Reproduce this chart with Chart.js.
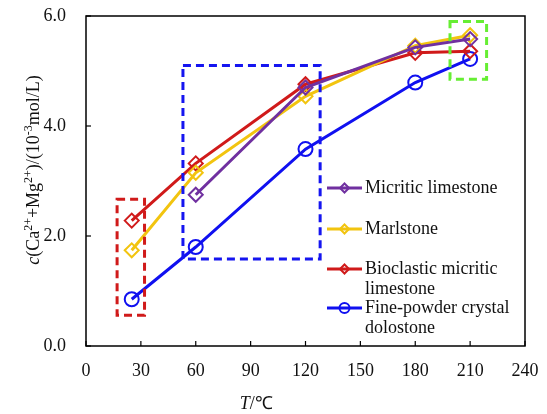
<!DOCTYPE html>
<html>
<head>
<meta charset="utf-8">
<script src="https://cdn.jsdelivr.net/npm/chart.js@4/dist/chart.umd.min.js"></script>
<style>
html,body{margin:0;padding:0;background:#fff;}
#wrap{width:547px;height:414px;}
</style>
</head>
<body>
<div id="wrap"><canvas id="c" width="547" height="414"></canvas></div>
<script>
const temperatures = [25, 60, 120, 180, 210];
const micriticLimestone = [null, 2.75, 4.70, 5.43, 5.58];
const marlstone = [1.74, 3.15, 4.54, 5.46, 5.65];
const bioclasticLimestone = [2.28, 3.32, 4.76, 5.33, 5.36];
const dolostone = [0.85, 1.80, 3.58, 4.79, 5.22];
const seriesNames = ['Micritic limestone', 'Marlstone', 'Bioclastic micritic|limestone', 'Fine-powder crystal|dolostone'];
const xTicks = [0, 30, 60, 90, 120, 150, 180, 210, 240];
const yTicks = [0, 2, 4, 6];
// highlight boxes in data units: [xMin, xMax, yMin, yMax]
const boxRed = [17, 32, 0.56, 2.67];
const boxBlue = [53, 128, 1.58, 5.1];
const boxGreen = [199, 219, 4.85, 5.9];

const colors = ['#7030A0', '#F2C40F', '#D01A1A', '#1010F0'];
const styles = ['rectRot', 'rectRot', 'rectRot', 'circle'];
const seriesData = [micriticLimestone, marlstone, bioclasticLimestone, dolostone];

const FONT = '"Liberation Serif", "Times New Roman", serif';

const datasets = seriesData.map((arr, i) => ({
  label: seriesNames[i],
  data: temperatures.map((t, j) => ({x: t, y: arr[j]})).filter(p => p.y !== null),
  borderColor: colors[i],
  backgroundColor: colors[i],
  borderWidth: 3,
  pointStyle: styles[i],
  pointRadius: 7,
  pointBorderWidth: 2,
  pointBackgroundColor: 'rgba(255,255,255,0)',
  pointBorderColor: colors[i],
  showLine: true,
  tension: 0
}));

const decor = {
  id: 'decor',
  afterDatasetsDraw(chart) {
    const ctx = chart.ctx;
    const xs = chart.scales.x, ys = chart.scales.y;
    const ca = chart.chartArea;
    ctx.save();
    const drawBox = (b, col) => {
      const x1 = xs.getPixelForValue(b[0]), x2 = xs.getPixelForValue(b[1]);
      const y1 = ys.getPixelForValue(b[3]), y2 = ys.getPixelForValue(b[2]);
      ctx.strokeStyle = col; ctx.lineWidth = 3; ctx.setLineDash([8, 5]);
      ctx.strokeRect(x1, y1, x2 - x1, y2 - y1);
    };
    drawBox(boxRed, '#D01A1A');
    drawBox(boxBlue, '#1515F0');
    drawBox(boxGreen, '#66EE33');
    ctx.setLineDash([]);
    ctx.strokeStyle = '#000'; ctx.lineWidth = 1.5;
    ctx.strokeRect(ca.left, ca.top, ca.right - ca.left, ca.bottom - ca.top);
    ctx.lineWidth = 1.2;
    xTicks.forEach(v => {
      const px = xs.getPixelForValue(v);
      ctx.beginPath(); ctx.moveTo(px, ca.bottom); ctx.lineTo(px, ca.bottom - 5); ctx.stroke();
    });
    yTicks.forEach(v => {
      const py = ys.getPixelForValue(v);
      ctx.beginPath(); ctx.moveTo(ca.left, py); ctx.lineTo(ca.left + 5, py); ctx.stroke();
    });
    // legend
    const lx = ca.left + 241, tx = lx + 38;
    const rowY = [188, 229, 269, 308];
    ctx.font = '18px ' + FONT;
    ctx.textBaseline = 'middle';
    ctx.textAlign = 'left';
    seriesNames.forEach((name, i) => {
      const y = rowY[i];
      ctx.strokeStyle = colors[i]; ctx.lineWidth = 3;
      ctx.beginPath(); ctx.moveTo(lx, y); ctx.lineTo(lx + 35, y); ctx.stroke();
      ctx.lineWidth = 2;
      ctx.beginPath();
      if (styles[i] === 'circle') {
        ctx.arc(lx + 17.5, y, 5, 0, Math.PI * 2);
      } else {
        ctx.moveTo(lx + 17.5, y - 4.5); ctx.lineTo(lx + 22, y); ctx.lineTo(lx + 17.5, y + 4.5); ctx.lineTo(lx + 13, y); ctx.closePath();
      }
      ctx.stroke();
      ctx.fillStyle = '#111';
      name.split('|').forEach((ln, k) => ctx.fillText(ln, tx, y + k * 20));
    });
    // y title with superscripts
    const segs = [
      {t: 'c', it: true}, {t: '(Ca'}, {t: '2+', sup: true}, {t: '+Mg'}, {t: '2+', sup: true},
      {t: ')/(10'}, {t: '-3', sup: true}, {t: 'mol/L)'}
    ];
    const fontFor = s => (s.it ? 'italic ' : '') + (s.sup ? '12px ' : '18px ') + FONT;
    let total = 0;
    segs.forEach(s => { ctx.font = fontFor(s); s.w = ctx.measureText(s.t).width; total += s.w; });
    ctx.translate(33, ys.getPixelForValue(3.2));
    ctx.rotate(-Math.PI / 2);
    let cx = -total / 2;
    ctx.fillStyle = '#111';
    ctx.textBaseline = 'alphabetic';
    segs.forEach(s => {
      ctx.font = fontFor(s);
      ctx.fillText(s.t, cx, s.sup ? -1 : 6);
      cx += s.w;
    });
    ctx.setTransform(1, 0, 0, 1, 0, 0);
    // x title
    ctx.textBaseline = 'middle';
    ctx.textAlign = 'left';
    const xt = xs.getPixelForValue(84);
    ctx.font = 'italic 18px ' + FONT;
    ctx.fillText('T', xt, 404);
    const tw = ctx.measureText('T').width;
    ctx.font = '18px ' + FONT;
    ctx.fillText('/℃', xt + tw, 404);
    ctx.restore();
  }
};

new Chart(document.getElementById('c'), {
  type: 'scatter',
  data: {datasets},
  options: {
    responsive: false,
    animation: false,
    devicePixelRatio: 1,
    layout: {padding: {left: 0, right: 22, top: 16, bottom: 0}},
    plugins: {legend: {display: false}, tooltip: {enabled: false}},
    scales: {
      x: {
        type: 'linear', min: 0, max: 240,
        afterBuildTicks: s => { s.ticks = xTicks.map(v => ({value: v})); },
        afterFit: s => { s.height = 68; s.paddingLeft = 0; s.paddingRight = 0; },
        grid: {display: false, drawTicks: false},
        border: {display: false},
        ticks: {color: '#111', font: {family: FONT, size: 18}, padding: 14, maxRotation: 0,
                callback: v => String(v)}
      },
      y: {
        type: 'linear', min: 0, max: 6,
        afterBuildTicks: s => { s.ticks = yTicks.map(v => ({value: v})); },
        afterFit: s => { s.width = 86; s.paddingTop = 0; s.paddingBottom = 0; },
        grid: {display: false, drawTicks: false},
        border: {display: false},
        ticks: {color: '#111', font: {family: FONT, size: 18}, padding: 20,
                callback: v => Number(v).toFixed(1)}
      }
    }
  },
  plugins: [decor]
});
</script>
</body>
</html>
